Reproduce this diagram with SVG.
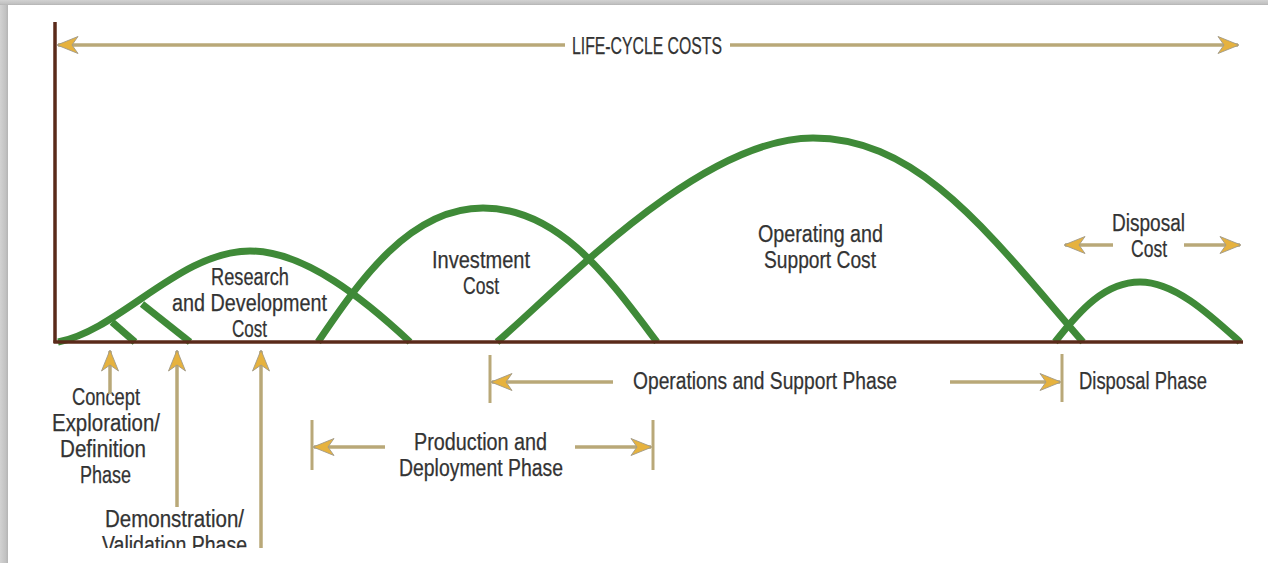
<svg xmlns="http://www.w3.org/2000/svg" width="1268" height="563" viewBox="0 0 1268 563">
<defs>
<style>
.lbl{font-family:"Liberation Sans Narrow","Liberation Sans","DejaVu Sans Condensed",sans-serif;font-size:23px;fill:#333333;stroke:#333333;stroke-width:0.25;}
.curve{fill:none;stroke:#3f8a38;stroke-width:7;stroke-linecap:butt;stroke-linejoin:round;}
.arr{fill:none;stroke:#b9a878;stroke-width:3.5;marker-end:url(#head);}
.tick{fill:none;stroke:#b9a878;stroke-width:3;}
.axis{fill:none;stroke:#5a2a1a;stroke-width:3.5;}
</style>
<marker id="head" markerUnits="userSpaceOnUse" markerWidth="26" markerHeight="20" viewBox="-23 -10 26 20" refX="0" refY="0" orient="auto">
<path d="M1,0 L-20,-8.5 L-14,0 L-20,8.5 Z" fill="#e6b23e" stroke="#a09a88" stroke-width="0.9" stroke-linejoin="round"/>
</marker>
<clipPath id="clipBottom"><rect x="0" y="0" width="1268" height="548"/></clipPath>
<linearGradient id="leftShade" x1="0" y1="0" x2="1" y2="0">
<stop offset="0" stop-color="#d2d2d2"/><stop offset="0.7" stop-color="#c2c2c2"/><stop offset="1" stop-color="#b4b4b4"/>
</linearGradient>
<linearGradient id="topShade" x1="0" y1="0" x2="0" y2="1">
<stop offset="0" stop-color="#d2d2d2"/><stop offset="0.7" stop-color="#c2c2c2"/><stop offset="1" stop-color="#b4b4b4"/>
</linearGradient>
</defs>

<rect x="0" y="0" width="1268" height="563" fill="#ffffff"/>
<rect x="0" y="0" width="8" height="563" fill="url(#leftShade)"/>
<rect x="0" y="0" width="1268" height="5" fill="url(#topShade)"/>

<g id="curves">
<g id="rd-cost">
<path class="curve" d="M58,342 C120,330 180,251 250,251 C305,251 365,300 410,342"/>
<text class="lbl" x="211" y="285" textLength="78" lengthAdjust="spacingAndGlyphs">Research</text>
<text class="lbl" x="172" y="311" textLength="155" lengthAdjust="spacingAndGlyphs">and Development</text>
<text class="lbl" x="232" y="337" textLength="35" lengthAdjust="spacingAndGlyphs">Cost</text>
</g>
<g id="concept-curve">
<path class="curve" d="M112,322 L135,342"/>
</g>
<g id="demo-curve">
<path class="curve" d="M142,304 L190,342"/>
</g>
<g id="investment-cost">
<path class="curve" d="M318,342 C360,280 410,208 483,208 C560,208 610,280 657,342"/>
<text class="lbl" x="432" y="268" textLength="98" lengthAdjust="spacingAndGlyphs">Investment</text>
<text class="lbl" x="463" y="294" textLength="36" lengthAdjust="spacingAndGlyphs">Cost</text>
</g>
<g id="os-cost">
<path class="curve" d="M497,342 C560,288 700,138 813,138 C920,138 990,235 1083,342"/>
<text class="lbl" x="758" y="242" textLength="125" lengthAdjust="spacingAndGlyphs">Operating and</text>
<text class="lbl" x="764" y="268" textLength="112" lengthAdjust="spacingAndGlyphs">Support Cost</text>
</g>
<g id="disposal-cost">
<path class="curve" d="M1055,342 C1080,310 1105,282 1140,282 C1175,282 1210,315 1240,342"/>
<text class="lbl" x="1112" y="231" textLength="73" lengthAdjust="spacingAndGlyphs">Disposal</text>
<text class="lbl" x="1131" y="257" textLength="36" lengthAdjust="spacingAndGlyphs">Cost</text>
</g>
</g>

<g id="axes">
<line class="axis" x1="55" y1="22" x2="55" y2="343"/>
<line class="axis" x1="53.5" y1="342" x2="1243" y2="342"/>
</g>

<g id="life-cycle">
<text class="lbl" x="572" y="54" textLength="150" lengthAdjust="spacingAndGlyphs">LIFE-CYCLE COSTS</text>
</g>

<g id="phase-labels">
<g id="concept-phase">
<text class="lbl" x="72" y="405" textLength="68" lengthAdjust="spacingAndGlyphs">Concept</text>
<text class="lbl" x="52" y="431" textLength="108" lengthAdjust="spacingAndGlyphs">Exploration/</text>
<text class="lbl" x="60" y="457" textLength="86" lengthAdjust="spacingAndGlyphs">Definition</text>
<text class="lbl" x="80" y="483" textLength="51" lengthAdjust="spacingAndGlyphs">Phase</text>
</g>
<g id="demo-phase" clip-path="url(#clipBottom)">
<text class="lbl" x="105" y="527" textLength="139" lengthAdjust="spacingAndGlyphs">Demonstration/</text>
<text class="lbl" x="102" y="553" textLength="145" lengthAdjust="spacingAndGlyphs">Validation Phase</text>
</g>
<g id="production-phase">
<text class="lbl" x="414" y="450" textLength="133" lengthAdjust="spacingAndGlyphs">Production and</text>
<text class="lbl" x="399" y="476" textLength="164" lengthAdjust="spacingAndGlyphs">Deployment Phase</text>
</g>
<g id="os-phase">
<text class="lbl" x="633" y="389" textLength="264" lengthAdjust="spacingAndGlyphs">Operations and Support Phase</text>
</g>
<g id="disposal-phase">
<text class="lbl" x="1079" y="389" textLength="128" lengthAdjust="spacingAndGlyphs">Disposal Phase</text>
</g>
</g>

<g id="connectors">
<line class="arr" x1="565" y1="45" x2="58" y2="45"/>
<line class="arr" x1="730" y1="45" x2="1238" y2="45"/>
<line class="arr" x1="110" y1="394" x2="110" y2="351"/>
<line class="arr" x1="177" y1="507" x2="177" y2="351"/>
<line class="arr" x1="261" y1="548" x2="261" y2="351"/>
<line class="arr" x1="1113" y1="245" x2="1065" y2="245"/>
<line class="arr" x1="1184" y1="245" x2="1240" y2="245"/>
<line class="tick" x1="490" y1="355" x2="490" y2="403"/>
<line class="arr" x1="613" y1="382" x2="492" y2="382"/>
<line class="arr" x1="950" y1="382" x2="1060" y2="382"/>
<line class="tick" x1="1062" y1="354" x2="1062" y2="402"/>
<line class="tick" x1="312" y1="420" x2="312" y2="470"/>
<line class="arr" x1="385" y1="447" x2="314" y2="447"/>
<line class="arr" x1="575" y1="447" x2="651" y2="447"/>
<line class="tick" x1="653" y1="420" x2="653" y2="470"/>
</g>
</svg>
